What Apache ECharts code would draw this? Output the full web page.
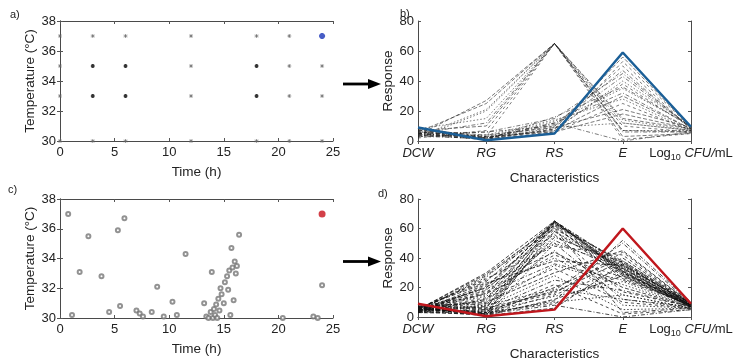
<!DOCTYPE html>
<html>
<head>
<meta charset="utf-8">
<script src="https://cdn.jsdelivr.net/npm/echarts@6/dist/echarts.min.js"></script>
<style>
html,body{margin:0;padding:0;background:#fff;}
#chart{width:736px;height:362px;}
</style>
</head>
<body>
<div id="chart"></div>
<script>
// ---------- DATA ----------
const timeTicks = [0, 5, 10, 15, 20, 25];
const tempTicks = [30, 32, 34, 36, 38];
const responseTicks = [0, 20, 40, 60, 80];
const characteristics = ['DCW', 'RG', 'RS', 'E', 'CFU'];

// panel a: designed (time, temperature) conditions
const aDark = [[3,35],[6,35],[18,35],[3,33],[6,33],[18,33]];
const aLight = [[0,37],[3,37],[6,37],[12,37],[18,37],[21,37],
  [0,35],[12,35],[21,35],[24,35],[0,33],[12,33],[21,33],[24,33],
  [0,30],[3,30],[6,30],[12,30],[18,30],[21,30],[24,30]];
const aBest = [[24,37]];

// panel c: explored (time, temperature) conditions
const cPoints = [[0.75,37.0],[1.1,30.2],[1.8,33.1],[2.6,35.5],[3.8,32.8],[4.5,30.4],
  [5.3,35.9],[5.9,36.7],[5.5,30.8],[7.0,30.5],[7.3,30.3],[7.6,30.1],[8.4,30.4],
  [8.9,32.1],[9.5,30.1],[10.3,31.1],[10.7,30.2],[11.5,34.3],[13.2,31.0],[13.4,30.1],
  [13.6,30.0],[13.8,30.4],[13.9,33.1],[14.0,30.0],[14.1,30.6],[14.2,30.2],[14.3,30.9],
  [14.4,30.0],[14.5,31.3],[14.6,30.5],[14.7,32.0],[14.8,31.6],[15.0,31.0],[15.1,32.4],
  [15.3,32.8],[15.4,31.9],[15.5,33.2],[15.6,30.2],[15.7,34.7],[15.8,33.4],[16.0,33.8],
  [16.1,33.0],[16.2,33.5],[16.4,35.6],[15.9,31.2],[20.4,30.0],[23.2,30.1],[23.6,30.0],[24.0,32.2]];
const cBest = [[24,37]];

// panel b: responses (DCW, RG, RS, E, Log10 CFU/mL)
const bLines = [
  [4,27,65,7,6],[3,21,65,14,7],[5,12,65,6,6],[6,3,65,1,5],[7,10,65,15,8],
  [2,20,65,7,7],[4,6,15,45,9],[6,2,10,50,8],[5,1,8,56,9],[8,3,7,40,10],
  [3,2,12,32,8],[4,1,6,25,7],[7,4,9,21,9],[6,3,13,35,10],[5,2,11,47,8],
  [8,1,5,53,9],[9,2,7,30,8],[3,4,14,28,7],[5,6,10,43,9],[6,2,8,38,9],
  [4,3,6,18,8],[7,1,9,12,7],[5,2,12,0,6],[2,7,65,10,6],[6,25,65,3,5],
  [8,15,65,12,7],[4,1,16,36,10]
];
const bBest = [9, 0.5, 5, 59, 9.5];

// panel d: responses
const dLines = [
  [5,30,65,30,8],[4,27,64,33,7],[6,24,65,35,9],[3,21,63,37,8],[5,18,65,31,7],
  [7,15,64,34,9],[4,12,65,36,8],[6,9,63,29,7],[5,6,65,32,8],[3,4,62,38,9],
  [6,2,64,30,7],[7,1,60,33,8],[5,3,58,28,7],[4,8,55,35,9],[6,11,52,31,8],
  [5,26,48,42,9],[4,22,44,20,7],[6,19,40,15,6],[3,16,36,25,8],[5,13,33,10,6],
  [7,10,30,45,9],[4,7,28,5,6],[6,5,25,18,7],[5,3,22,2,5],[3,2,20,40,9],
  [6,14,45,8,6],[5,20,50,12,7],[4,17,42,27,8],[6,23,38,35,9],[7,9,35,22,7],
  [5,4,18,50,9],[6,2,15,33,8],[4,1,12,28,7],[5,3,10,15,6],[7,2,8,0,5],
  [3,5,16,44,9],[6,1,6,36,8],[5,4,14,24,7],[4,2,11,52,10],[6,3,9,30,8],
  [8,6,17,38,9],[5,8,19,12,6],[4,28,60,3,6],[6,25,56,17,7],[5,29,62,26,8],
  [3,12,58,33,8],[6,7,54,37,9],[5,16,61,29,8],[4,20,64,31,7],[7,1,50,34,8]
];
const dBest = [9, 0.5, 5, 60, 9];

// ---------- STYLE / LAYOUT ----------
const FONT = '"Liberation Sans", Arial, Helvetica, sans-serif';
const TXT = '#222';
const grids = [
  {left:60, top:21, width:273, height:120},
  {left:418, top:21, width:273, height:120},
  {left:60, top:199, width:273, height:119},
  {left:418, top:199, width:273, height:119}
];
const dashTypes = [[4,2],[1.5,2],[4,2,1,2],[3,3]];

function catLabel(v){
  if (v === 'CFU') return '{n|Log}{sub|10}{n| }{it|CFU/}{n|mL}';
  return '{it|' + v + '}';
}
const rich = {
  n:{fontFamily:FONT,fontSize:13,color:TXT,lineHeight:15},
  it:{fontFamily:FONT,fontSize:13,color:TXT,fontStyle:'italic',lineHeight:15},
  sub:{fontFamily:FONT,fontSize:9,color:TXT,lineHeight:15,padding:[9,0,0,0]}
};

const xAxes = [], yAxes = [];
const axLine = {show:true, lineStyle:{color:'#4a4a4a', width:1}};
const tick = {show:true, inside:true, length:3, lineStyle:{color:'#555'}};
grids.forEach((g, i) => {
  const isScatter = (i === 0 || i === 2);
  const nameGapX = isScatter ? 24 : 30;
  if (isScatter) {
    xAxes.push({gridIndex:i, type:'value', min:timeTicks[0], max:timeTicks[timeTicks.length-1], interval:5,
      name:'Time (h)', nameLocation:'middle', nameGap:nameGapX,
      nameTextStyle:{fontFamily:FONT,fontSize:13.5,color:TXT},
      axisLine:axLine, axisTick:tick, splitLine:{show:false},
      axisLabel:{fontFamily:FONT,fontSize:13,color:TXT,margin:5}});
    yAxes.push({gridIndex:i, type:'value', min:tempTicks[0], max:tempTicks[tempTicks.length-1], interval:2,
      name:'Temperature (°C)', nameLocation:'middle', nameGap:19,
      nameTextStyle:{fontFamily:FONT,fontSize:13.5,color:TXT},
      axisLine:axLine, axisTick:tick, splitLine:{show:false},
      axisLabel:{fontFamily:FONT,fontSize:13,color:TXT,margin:4}});
  } else {
    xAxes.push({gridIndex:i, type:'category', data:characteristics, boundaryGap:false,
      name:'Characteristics', nameLocation:'middle', nameGap:nameGapX,
      nameTextStyle:{fontFamily:FONT,fontSize:13.5,color:TXT},
      axisLine:axLine, axisTick:{show:false}, splitLine:{show:false},
      axisLabel:{formatter:catLabel, rich:rich, margin:5, interval:0}});
    yAxes.push({gridIndex:i, type:'value', min:responseTicks[0], max:responseTicks[responseTicks.length-1], interval:20,
      name:'Response', nameLocation:'middle', nameGap:20,
      nameTextStyle:{fontFamily:FONT,fontSize:13.5,color:TXT},
      axisLine:axLine, axisTick:tick, splitLine:{show:false},
      axisLabel:{fontFamily:FONT,fontSize:13,color:TXT,margin:4}});
  }
});
// mirrored box axes (top / right)
grids.forEach((g, i) => {
  const isScatter = (i === 0 || i === 2);
  if (isScatter) {
    xAxes.push({gridIndex:i, type:'value', position:'top', min:0, max:25, interval:5,
      axisLine:axLine, axisTick:tick, axisLabel:{show:false}, splitLine:{show:false}});
  } else {
    xAxes.push({gridIndex:i, type:'category', position:'top', data:characteristics, boundaryGap:false,
      axisLine:axLine, axisTick:{show:true, inside:true, length:3, interval:0, lineStyle:{color:'#555'}},
      axisLabel:{show:false}, splitLine:{show:false}});
  }
  yAxes.push({gridIndex:i, type:'value', position:'right',
    min: isScatter ? 30 : 0, max: isScatter ? 38 : 80, interval: isScatter ? 2 : 20,
    axisLine:axLine, axisTick:tick, axisLabel:{show:false}, splitLine:{show:false}});
});

const asterisk = 'path://M5,0L5,10M0,5L10,5M1.5,1.5L8.5,8.5M8.5,1.5L1.5,8.5';
const series = [];
series.push({type:'scatter', xAxisIndex:0, yAxisIndex:0, data:aLight, symbol:asterisk, symbolSize:4,
  itemStyle:{color:'none', borderColor:'#666', borderWidth:0.8}});
series.push({type:'scatter', xAxisIndex:0, yAxisIndex:0, data:aDark, symbol:asterisk, symbolSize:4,
  itemStyle:{color:'none', borderColor:'#000', borderWidth:1.2}});
series.push({type:'scatter', xAxisIndex:0, yAxisIndex:0, data:aBest, symbol:asterisk, symbolSize:6,
  itemStyle:{color:'none', borderColor:'#1a35b8', borderWidth:2}});

bLines.forEach((row, k) => {
  series.push({type:'line', xAxisIndex:1, yAxisIndex:1, data:row, symbol:'none',
    lineStyle:{color:'#222', width:0.8, type:dashTypes[k % dashTypes.length], opacity:0.75}});
});
series.push({type:'line', xAxisIndex:1, yAxisIndex:1, data:bBest, symbol:'none', z:5,
  lineStyle:{color:'#1b5f97', width:2.5}});

series.push({type:'scatter', xAxisIndex:2, yAxisIndex:2, data:cPoints, symbol:'emptyCircle', symbolSize:4,
  itemStyle:{color:'#777', borderColor:'#777', borderWidth:0.6}});
series.push({type:'scatter', xAxisIndex:2, yAxisIndex:2, data:cBest, symbol:'circle', symbolSize:7,
  itemStyle:{color:'#c8101a'}});

dLines.forEach((row, k) => {
  series.push({type:'line', xAxisIndex:3, yAxisIndex:3, data:row, symbol:'none',
    lineStyle:{color:'#111', width:0.9, type:dashTypes[k % dashTypes.length], opacity:0.85}});
});
series.push({type:'line', xAxisIndex:3, yAxisIndex:3, data:dBest, symbol:'none', z:5,
  lineStyle:{color:'#c0171d', width:2.5}});

function arrow(y){
  return [
    {type:'line', shape:{x1:343, y1:y, x2:370, y2:y}, style:{stroke:'#000', lineWidth:2.8}},
    {type:'polygon', shape:{points:[[368,y-5],[381,y],[368,y+5]]}, style:{fill:'#000'}}
  ];
}
const panelLabel = (t, x, y) => ({type:'text', left:x, top:y,
  style:{text:t, font:'11px ' + FONT, fill:TXT}});

const option = {
  animation:false,
  backgroundColor:'#fff',
  grid: grids,
  xAxis: xAxes,
  yAxis: yAxes,
  series: series,
  graphic: [].concat(arrow(84), arrow(261.5), [
    panelLabel('a)', 10, 9), panelLabel('b)', 400, 8),
    panelLabel('c)', 8, 184), panelLabel('d)', 378, 188)
  ])
};
const chart = echarts.init(document.getElementById('chart'), null, {renderer:'canvas'});
chart.setOption(option);
</script>
</body>
</html>
